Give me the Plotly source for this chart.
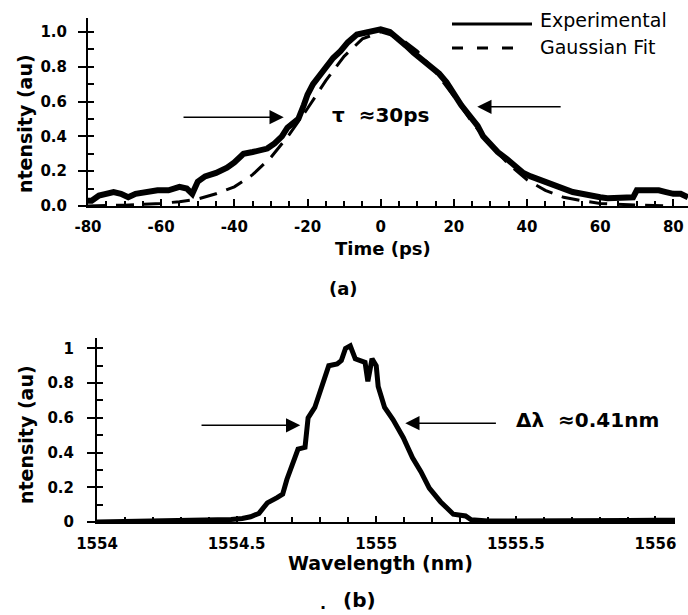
import plotly.graph_objects as go

# ---------- data ----------
time_exp = [-82, -79, -77, -75, -73, -71, -69, -67, -64, -61, -58, -55, -53, -51.5, -50, -48, -45,
            -42, -40, -37.5, -35, -33, -31, -29, -27, -25.5, -24, -22.5, -21, -20, -18.5, -17, -15.5,
            -13, -11, -9, -6.5, -4, -2, 0, 2.5, 5, 7, 9, 11.5, 14, 16, 18, 20, 22, 23.5, 25, 26.5,
            28, 30, 32, 34.5, 37, 39, 41, 43.5, 46, 48, 50, 52.5, 55, 57, 60, 62, 65, 67, 69, 70,
            73, 76, 78, 80, 82, 84]
int_exp = [0.03, 0.03, 0.06, 0.07, 0.08, 0.07, 0.05, 0.07, 0.08, 0.09, 0.09, 0.11, 0.10, 0.07, 0.14,
           0.17, 0.19, 0.22, 0.25, 0.30, 0.31, 0.32, 0.33, 0.36, 0.40, 0.45, 0.48, 0.50, 0.58, 0.64,
           0.70, 0.74, 0.79, 0.85, 0.89, 0.94, 0.985, 1.0, 1.01, 1.015, 1.0, 0.96, 0.92, 0.88, 0.84,
           0.80, 0.76, 0.71, 0.64, 0.58, 0.54, 0.50, 0.46, 0.40, 0.35, 0.31, 0.27, 0.22, 0.19, 0.17,
           0.15, 0.13, 0.11, 0.10, 0.08, 0.07, 0.06, 0.05, 0.045, 0.05, 0.05, 0.05, 0.09, 0.09, 0.09,
           0.08, 0.07, 0.07, 0.05]

time_fit = [-80, -70, -60, -55, -50, -45, -40, -35, -30, -25, -20, -15, -10, -5, 0, 5, 10, 15, 20,
            25, 30, 35, 40, 45, 50, 55, 60, 70, 80]
int_fit = [0.0, 0.005, 0.015, 0.025, 0.04, 0.07, 0.11, 0.18, 0.28, 0.41, 0.56, 0.72, 0.86, 0.96,
           1.0, 0.97, 0.89, 0.77, 0.63, 0.48, 0.35, 0.24, 0.15, 0.09, 0.05, 0.03, 0.015, 0.005, 0.0]

wavelength = [1554.0, 1554.1, 1554.2, 1554.3, 1554.4, 1554.45, 1554.48, 1554.52, 1554.55, 1554.58,
              1554.61, 1554.645, 1554.665, 1554.68, 1554.70, 1554.72, 1554.745, 1554.756, 1554.78,
              1554.806, 1554.83, 1554.86, 1554.875, 1554.89, 1554.907, 1554.925, 1554.96, 1554.97,
              1554.985, 1555.0, 1555.007, 1555.03, 1555.06, 1555.097, 1555.13, 1555.16, 1555.19,
              1555.23, 1555.276, 1555.32, 1555.34, 1555.4, 1555.5, 1555.6, 1555.7, 1555.8, 1555.9,
              1556.0, 1556.07]
int_spec = [0.0, 0.003, 0.005, 0.006, 0.008, 0.01, 0.015, 0.02, 0.03, 0.05, 0.11, 0.14, 0.16, 0.245,
            0.335, 0.42, 0.43, 0.60, 0.66, 0.79, 0.90, 0.91, 0.93, 1.0, 1.015, 0.94, 0.92, 0.81, 0.94,
            0.90, 0.78, 0.66, 0.59, 0.486, 0.37, 0.29, 0.195, 0.117, 0.045, 0.035, 0.013, 0.006,
            0.005, 0.005, 0.006, 0.007, 0.008, 0.01, 0.01]

top_yticks = [0, 0.2, 0.4, 0.6, 0.8, 1.0]
top_yticktext = ["0.0", "0.2", "0.4", "0.6", "0.8", "1.0"]
top_xticks = [-80, -60, -40, -20, 0, 20, 40, 60, 80]
top_xticktext = ["-80", "-60", "-40", "-20", "0", "20", "40", "60", "80"]
bot_yticks = [0, 0.2, 0.4, 0.6, 0.8, 1]
bot_yticktext = ["0", "0.2", "0.4", "0.6", "0.8", "1"]
bot_xticks = [1554, 1554.5, 1555, 1555.5, 1556]
bot_xticktext = ["1554", "1554.5", "1555", "1555.5", "1556"]

W, H = 688, 615
FONT = "DejaVu Sans"


def px(x):
    return x / W


def py(y):
    return 1 - y / H


fig = go.Figure()
fig.add_trace(go.Scatter(x=time_fit, y=int_fit, mode="lines", name="Gaussian Fit",
                         line=dict(color="black", width=3, dash="18px,10px"),
                         xaxis="x", yaxis="y", showlegend=False))
fig.add_trace(go.Scatter(x=time_exp, y=int_exp, mode="lines", name="Experimental",
                         line=dict(color="black", width=6),
                         xaxis="x", yaxis="y", showlegend=False))
fig.add_trace(go.Scatter(x=wavelength, y=int_spec, mode="lines", name="Spectrum",
                         line=dict(color="black", width=5),
                         xaxis="x2", yaxis="y2", showlegend=False))

axis_common = dict(showline=True, linecolor="black", linewidth=2, showgrid=False, zeroline=False,
                   tickcolor="black", tickwidth=2, automargin=False,
                   tickfont=dict(family=FONT, size=15, color="black", weight="bold"))

fig.update_layout(
    template="none",
    width=W, height=H, margin=dict(l=0, r=0, t=0, b=0, pad=0),
    paper_bgcolor="white", plot_bgcolor="white",
    font=dict(family=FONT, color="black"),
    xaxis=dict(domain=[px(88), 1.0], range=[-80, 84], anchor="y", tickvals=top_xticks,
               ticktext=top_xticktext,
               ticks="inside", ticklen=7, ticklabelstandoff=6,
               minor=dict(dtick=5, tick0=0, ticks="inside", ticklen=5, tickwidth=2, tickcolor="black"),
               **axis_common),
    yaxis=dict(domain=[py(206), py(18)], range=[0, 1.08], anchor="x", tickvals=top_yticks,
               ticktext=top_yticktext, ticks="outside", ticklen=8, ticklabelstandoff=8,
               minor=dict(dtick=0.1, tick0=0, ticks="inside", ticklen=6, tickwidth=2, tickcolor="black"),
               **axis_common),
    xaxis2=dict(domain=[px(97), px(675)], range=[1554, 1556.07], anchor="y2", tickvals=bot_xticks,
                ticktext=bot_xticktext,
                ticks="inside", ticklen=6, ticklabelstandoff=7,
                minor=dict(dtick=0.1, tick0=1554, ticks="inside", ticklen=5, tickwidth=2, tickcolor="black"),
                **axis_common),
    yaxis2=dict(domain=[py(522), py(338)], range=[0, 1.06], anchor="x2", tickvals=bot_yticks,
                ticktext=bot_yticktext, ticks="outside", ticklen=8, ticklabelstandoff=10,
                minor=dict(dtick=0.1, tick0=0, ticks="inside", ticklen=6, tickwidth=2, tickcolor="black"),
                **axis_common),
)

bold = dict(family=FONT, color="black", weight="bold")
mid = dict(xref="paper", yref="paper", xanchor="center", yanchor="middle", showarrow=False)
ann = []
# axis titles and panel labels
ann.append(dict(text="Time (ps)", x=px(383), y=py(248), font=dict(size=18, **bold), **mid))
ann.append(dict(text="(a)", x=px(343), y=py(288), font=dict(size=18, **bold), **mid))
ann.append(dict(text="ntensity (au)", x=px(25), y=py(124), textangle=-90,
                font=dict(size=19, **bold), **mid))
ann.append(dict(text="ntensity (au)", x=px(26), y=py(435), textangle=-90,
                font=dict(size=19, **bold), **mid))
ann.append(dict(text="Wavelength (nm)", x=px(380), y=py(563), font=dict(size=19, **bold), **mid))
ann.append(dict(text="(b)", x=px(359), y=py(600), font=dict(size=20, **bold), **mid))
ann.append(dict(text=".", x=px(323), y=py(603), font=dict(size=16, **bold), **mid))
# legend
leg = dict(mid, xanchor="left")
ann.append(dict(text="Experimental", x=px(538), y=py(20), font=dict(size=19, family=FONT, color="black"), **leg))
ann.append(dict(text="Gaussian Fit", x=px(538), y=py(47), font=dict(size=19, family=FONT, color="black"), **leg))
# FWHM arrows and labels, panel (a)
arrow = dict(showarrow=True, arrowhead=2, arrowsize=1.9, arrowwidth=1.5, arrowcolor="black",
             text="", axref="x", ayref="y", xref="x", yref="y")
ann.append(dict(x=-26.5, y=0.51, ax=-54.3, ay=0.51, **arrow))
ann.append(dict(x=26.4, y=0.57, ax=49.6, ay=0.57, **arrow))
ann.append(dict(text="τ  ≈30ps", x=0, y=0.52, xref="x", yref="y", showarrow=False,
                font=dict(size=20, **bold)))
# FWHM arrows and labels, panel (b)
arrow2 = dict(arrow, axref="x2", ayref="y2", xref="x2", yref="y2")
ann.append(dict(x=1554.728, y=0.557, ax=1554.369, ay=0.557, **arrow2))
ann.append(dict(x=1555.104, y=0.569, ax=1555.434, ay=0.569, **arrow2))
ann.append(dict(text="Δλ  ≈0.41nm", x=1555.756, y=0.586, xref="x2", yref="y2", showarrow=False,
                font=dict(size=20, **bold)))
fig.update_layout(annotations=ann)

fig.update_layout(shapes=[
    dict(type="line", xref="paper", yref="paper", x0=px(452), x1=px(532), y0=py(24), y1=py(24),
         line=dict(color="black", width=3)),
    dict(type="line", xref="paper", yref="paper", x0=px(452), x1=px(520), y0=py(48), y1=py(48),
         line=dict(color="black", width=3, dash="11px,14px")),
])

fig.write_html("out.html")
